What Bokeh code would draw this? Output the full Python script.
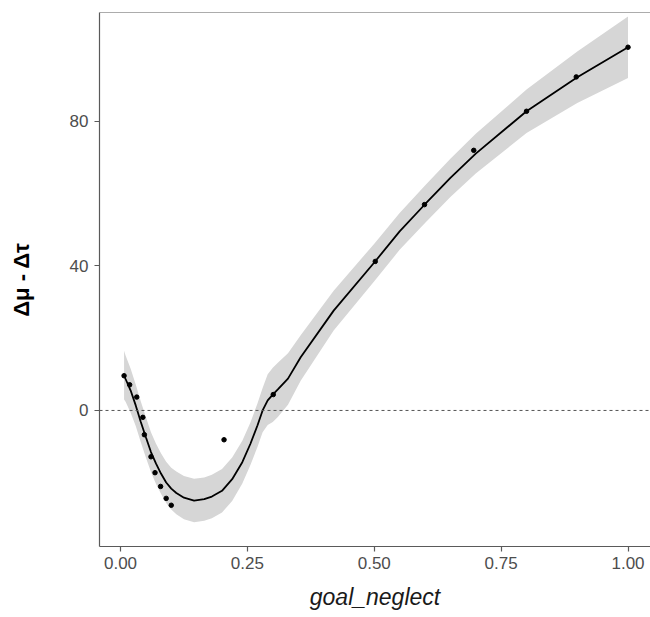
from bokeh.plotting import figure
from bokeh.models import Span, FixedTicker, Range1d
from bokeh.embed import file_html
from bokeh.resources import INLINE

# observed points
pt_x = [0.007, 0.018, 0.032, 0.044, 0.047, 0.060, 0.068, 0.079, 0.090, 0.100,
        0.204, 0.301, 0.502, 0.599, 0.696, 0.800, 0.898, 1.000]
pt_y = [9.6, 7.1, 3.7, -1.9, -6.7, -12.8, -17.2, -21.0, -24.3, -26.2,
        -8.1, 4.4, 41.2, 56.9, 71.9, 82.7, 92.2, 100.4]

# loess fit with confidence band
fit_x = [0.007, 0.01, 0.02, 0.03, 0.04, 0.05, 0.06, 0.07, 0.08, 0.09, 0.10, 0.11,
         0.125, 0.145, 0.165, 0.18, 0.20, 0.22, 0.24, 0.256, 0.27, 0.28, 0.29,
         0.30, 0.31, 0.33, 0.355, 0.42, 0.50, 0.55, 0.60, 0.65, 0.70, 0.80, 0.90, 1.00]
fit_y = [9.8, 8.7, 5.5, 1.4, -3.2, -7.4, -11.5, -14.7, -17.5, -19.9, -21.6, -22.8,
         -24.1, -24.9, -24.5, -23.8, -22.2, -19.0, -14.3, -9.2, -4.1, 0.0, 2.8,
         4.4, 5.8, 8.8, 14.7, 27.6, 40.9, 49.5, 57.0, 64.3, 71.0, 82.7, 92.1, 100.4]
fit_lo = [3.0, 2.4, -0.6, -4.3, -8.8, -13.0, -17.0, -20.3, -23.1, -25.6, -27.4, -28.7,
          -30.1, -30.9, -30.5, -29.8, -28.2, -25.0, -20.2, -15.1, -10.0, -6.0, -4.0,
          -3.2, -1.8, 1.6, 8.2, 22.1, 35.7, 44.4, 51.8, 59.0, 65.5, 76.7, 85.0, 91.9]
fit_hi = [16.5, 15.2, 11.5, 7.2, 2.5, -1.8, -6.0, -9.2, -11.9, -14.2, -15.8, -16.9,
          -18.1, -18.9, -18.5, -17.8, -16.2, -13.0, -8.4, -3.3, 2.0, 6.2, 10.0,
          11.8, 13.2, 15.8, 20.8, 33.1, 46.1, 54.6, 62.2, 69.6, 76.5, 88.7, 99.2, 108.9]

x_ticks = [0, 0.25, 0.5, 0.75, 1.0]
x_tick_labels = ["0.00", "0.25", "0.50", "0.75", "1.00"]
y_ticks = [0, 40, 80]
y_tick_labels = ["0", "40", "80"]

x_lo, x_hi = -0.0414, 1.0443
y_lo, y_hi = -37.6, 110.0

p = figure(width=650, height=617, output_backend="svg", toolbar_location=None,
           x_range=Range1d(x_lo, x_hi), y_range=Range1d(y_lo, y_hi),
           min_border_left=99, min_border_right=0, min_border_top=12, min_border_bottom=71)
p.background_fill_color = "white"
p.border_fill_color = "white"
p.outline_line_color = None
p.xgrid.visible = False
p.ygrid.visible = False

p.varea(x=fit_x, y1=fit_lo, y2=fit_hi, fill_color="#d6d6d6")
p.scatter(pt_x, pt_y, size=4.5, color="black")
p.line(fit_x, fit_y, line_color="black", line_width=1.8)

p.add_layout(Span(location=0, dimension="width", line_color="#555555",
                  line_dash="3 3", line_width=1))
p.add_layout(Span(location=y_hi, dimension="width", line_color="#5a5a5a", line_width=1.2))

axis_col = "#5a5a5a"
for ax in (p.xaxis[0], p.yaxis[0]):
    ax.axis_line_color = axis_col
    ax.axis_line_width = 1.2
    ax.major_tick_line_color = axis_col
    ax.major_tick_line_width = 1.2
    ax.major_tick_out = 5
    ax.major_tick_in = 0
    ax.minor_tick_line_color = None
    ax.major_label_text_font = "Liberation Sans"
    ax.major_label_text_font_size = "17px"
    ax.major_label_text_color = "#4d4d4d"
    ax.axis_label_text_font = "Liberation Sans"

p.xaxis.ticker = FixedTicker(ticks=x_ticks)
p.xaxis.major_label_overrides = dict(zip(x_ticks, x_tick_labels))
p.yaxis.ticker = FixedTicker(ticks=y_ticks)
p.yaxis.major_label_overrides = dict(zip(y_ticks, y_tick_labels))
p.xaxis.major_label_standoff = 5
p.yaxis.major_label_standoff = 6

p.xaxis.axis_label = "goal_neglect"
p.xaxis.axis_label_text_font_style = "italic"
p.xaxis.axis_label_text_font_size = "23px"
p.xaxis.axis_label_text_color = "#1a1a1a"
p.xaxis.axis_label_standoff = 12

p.yaxis.axis_label = "Δμ - Δτ"
p.yaxis.axis_label_text_font_style = "bold"
p.yaxis.axis_label_text_font_size = "22px"
p.yaxis.axis_label_text_color = "black"
p.yaxis.axis_label_standoff = 33

open("out.html", "w").write(file_html(p, INLINE))
